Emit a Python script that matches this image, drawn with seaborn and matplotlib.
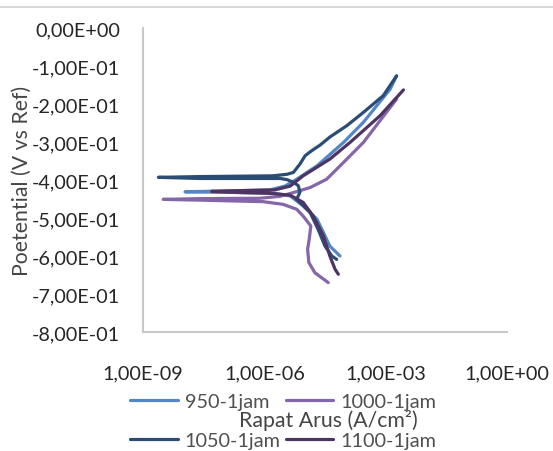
import numpy as np
import pandas as pd
import matplotlib
matplotlib.use("Agg")
import matplotlib.pyplot as plt
from matplotlib.ticker import FixedLocator, FuncFormatter, NullLocator
from matplotlib.lines import Line2D
import seaborn as sns

# ---- data: log10 of current density (A/cm2) and potential (V vs Ref) ----
series_names = ["950-1jam", "1000-1jam", "1050-1jam", "1100-1jam"]
series_colors = ["#5286C4", "#8566A8", "#2B4C74", "#4D3462"]

logi_950 = [-4.13, -4.38, -4.54, -4.70, -5.04, -5.36, -5.74, -6.60, -7.96,
            -6.60, -5.86, -5.49, -5.20, -4.70, -4.04, -3.55, -2.89, -2.73]
E_950 = [-0.600, -0.574, -0.538, -0.503, -0.468, -0.442, -0.435, -0.433, -0.431,
         -0.428, -0.426, -0.416, -0.398, -0.363, -0.301, -0.248, -0.161, -0.126]

logi_1000 = [-4.42, -4.75, -4.90, -4.93, -4.89, -4.85, -5.04, -5.20, -5.54, -6.03,
             -7.59, -8.50, -7.59, -6.11, -5.61, -5.28, -4.87, -4.46, -3.96, -3.55, -2.73]
E_1000 = [-0.670, -0.644, -0.617, -0.582, -0.556, -0.521, -0.495, -0.477, -0.464, -0.457,
          -0.453, -0.451, -0.449, -0.448, -0.443, -0.433, -0.420, -0.398, -0.345, -0.301, -0.187]

logi_1050 = [-4.21, -4.33, -4.50, -4.67, -4.87, -5.20, -5.12, -5.16, -5.28, -5.44,
             -5.61, -7.59, -8.62, -7.59, -5.79, -5.44, -5.28, -5.12, -4.99, -4.83,
             -4.62, -4.38, -3.96, -3.55, -3.06, -2.73]
E_1050 = [-0.609, -0.600, -0.574, -0.530, -0.485, -0.451, -0.432, -0.415, -0.406, -0.399,
          -0.396, -0.396, -0.393, -0.391, -0.389, -0.385, -0.380, -0.358, -0.336, -0.323,
          -0.308, -0.287, -0.257, -0.222, -0.178, -0.126]

logi_1100 = [-4.17, -4.25, -4.38, -4.54, -4.79, -5.04, -5.36, -5.86, -6.60, -7.30,
             -6.60, -5.74, -5.36, -5.04, -4.38, -3.88, -3.14, -2.56]
E_1100 = [-0.648, -0.635, -0.600, -0.547, -0.495, -0.459, -0.440, -0.435, -0.433, -0.430,
          -0.428, -0.426, -0.416, -0.389, -0.345, -0.301, -0.231, -0.163]

y_ticks = [0.0, -0.1, -0.2, -0.3, -0.4, -0.5, -0.6, -0.7, -0.8]
x_ticks = [1e-9, 1e-6, 1e-3, 1e0]
x_label = "Rapat Arus (A/cm²)"
y_label = "Poetential (V vs Ref)"

frames = []
for name, li, ee in [(series_names[0], logi_950, E_950),
                     (series_names[1], logi_1000, E_1000),
                     (series_names[2], logi_1050, E_1050),
                     (series_names[3], logi_1100, E_1100)]:
    frames.append(pd.DataFrame({"current": np.power(10.0, li), "E": ee,
                                "series": name}))
df = pd.concat(frames, ignore_index=True)

sns.set_theme(style="white")
plt.rcParams["font.family"] = ["Lato", "DejaVu Sans"]
FS = 14.3
FSL = 15.3

fig = plt.figure(figsize=(5.53, 4.52), dpi=100)
ax = fig.add_axes([143/553, 1-333/452, (507-143)/553, (333-29)/452])

sns.lineplot(data=df, x="current", y="E", hue="series", hue_order=series_names,
             palette=series_colors, sort=False, estimator=None, units="series",
             linewidth=2.3, legend=False, ax=ax)
for ln in ax.get_lines():
    ln.set_solid_capstyle("round")
    ln.set_solid_joinstyle("round")

ax.set_xscale("log")
ax.set_xlim(1e-9, 1e0)
ax.set_ylim(-0.8, 0.0)
ax.xaxis.set_major_locator(FixedLocator(x_ticks))
ax.xaxis.set_minor_locator(NullLocator())
ax.yaxis.set_major_locator(FixedLocator(y_ticks))
fmt = FuncFormatter(lambda v, p: f"{v:.2E}".replace(".", ",").replace("-0,00", "0,00"))
ax.xaxis.set_major_formatter(fmt)
ax.yaxis.set_major_formatter(fmt)
ax.tick_params(axis="both", length=0, labelsize=FS, colors="#262626")
ax.tick_params(axis="y", pad=16.5)
ax.tick_params(axis="x", pad=23)

for s in ["top", "right"]:
    ax.spines[s].set_visible(False)
for s in ["left", "bottom"]:
    ax.spines[s].set_color("#C8C8C8")
    ax.spines[s].set_linewidth(1.5)

ax.set_xlabel("")
ax.set_ylabel(y_label, fontsize=FSL, color="#454545", labelpad=0)

fig.text(328/553, 1-421/452, x_label, ha="center", va="center",
         fontsize=FSL, color="#454545")

handles = [Line2D([0], [0], color=c, lw=2.3) for c in series_colors]
# column-wise fill: col1 = 950, 1050 ; col2 = 1000, 1100
order = [0, 2, 1, 3]
fig.legend([handles[i] for i in order], [series_names[i] for i in order],
           ncol=2, loc="center left", bbox_to_anchor=(130/553, 1-422/452),
           frameon=False, fontsize=FS, labelcolor="#505050",
           handlelength=2.4, handletextpad=0.35, columnspacing=0.25,
           labelspacing=1.15, borderpad=0, borderaxespad=0)

fig.add_artist(Line2D([0, 1], [1-8/452, 1-8/452], transform=fig.transFigure,
                      color="#D9D9D9", lw=1.5))

fig.savefig("out.png", dpi=100)
